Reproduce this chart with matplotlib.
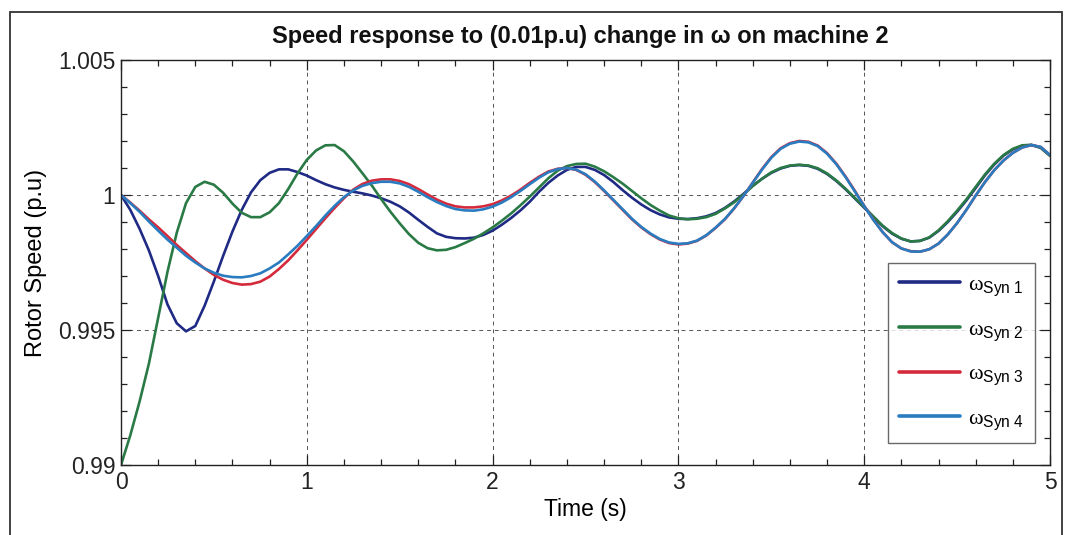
import numpy as np
import matplotlib
matplotlib.use("Agg")
import matplotlib.pyplot as plt
from matplotlib.ticker import MultipleLocator, FixedLocator, FixedFormatter
from matplotlib.patches import Rectangle

plt.rcParams['font.family'] = ['Liberation Sans', 'DejaVu Sans']
plt.rcParams['mathtext.fontset'] = 'custom'
plt.rcParams['mathtext.rm'] = 'Liberation Sans'
plt.rcParams['mathtext.it'] = 'Liberation Serif'

# time axis (s), sampled every 0.05 s
time_s = np.linspace(0.0, 5.0, 101)

# rotor speeds (p.u.)
w_syn1 = [
    1.00000, 0.99945, 0.99875, 0.99795, 0.99700, 0.99595, 0.99525, 0.99495, 0.99515, 0.99590,
    0.99680, 0.99775, 0.99865, 0.99945, 1.00010, 1.00055, 1.00082, 1.00095, 1.00095, 1.00085,
    1.00072, 1.00055, 1.00040, 1.00028, 1.00019, 1.00012, 1.00006, 0.99998, 0.99988, 0.99975,
    0.99958, 0.99935, 0.99908, 0.99882, 0.99858, 0.99845, 0.99840, 0.99839, 0.99842, 0.99852,
    0.99868, 0.99890, 0.99915, 0.99943, 0.99975, 1.00012, 1.00045, 1.00072, 1.00093, 1.00104,
    1.00104, 1.00093, 1.00074, 1.00048, 1.00018, 0.99990, 0.99965, 0.99944, 0.99928, 0.99917,
    0.99912, 0.99911, 0.99914, 0.99921, 0.99933, 0.99952, 0.99976, 1.00004, 1.00034, 1.00060,
    1.00082, 1.00098, 1.00108, 1.00111, 1.00108, 1.00097, 1.00078, 1.00052, 1.00021, 0.99987,
    0.99953, 0.99918, 0.99884, 0.99857, 0.99838, 0.99828, 0.99830, 0.99842, 0.99867, 0.99900,
    0.99938, 0.99980, 1.00026, 1.00073, 1.00113, 1.00146, 1.00169, 1.00182, 1.00185, 1.00175,
    1.00146,
]
w_syn2 = [
    0.99000, 0.99110, 0.99235, 0.99375, 0.99545, 0.99715, 0.99860, 0.99970, 1.00030, 1.00049,
    1.00038, 1.00008, 0.99968, 0.99934, 0.99918, 0.99918, 0.99936, 0.99970, 1.00022, 1.00080,
    1.00130, 1.00165, 1.00184, 1.00185, 1.00162, 1.00124, 1.00080, 1.00035, 0.99985, 0.99938,
    0.99895, 0.99855, 0.99823, 0.99803, 0.99795, 0.99797, 0.99807, 0.99822, 0.99838, 0.99858,
    0.99880, 0.99905, 0.99932, 0.99962, 0.99994, 1.00028, 1.00062, 1.00090, 1.00107, 1.00115,
    1.00116, 1.00105, 1.00088, 1.00066, 1.00042, 1.00015, 0.99988, 0.99963, 0.99942, 0.99924,
    0.99914, 0.99910, 0.99912, 0.99918, 0.99930, 0.99950, 0.99973, 1.00002, 1.00033, 1.00060,
    1.00084, 1.00100, 1.00109, 1.00112, 1.00109, 1.00099, 1.00080, 1.00054, 1.00023, 0.99989,
    0.99955, 0.99920, 0.99886, 0.99859, 0.99839, 0.99828, 0.99830, 0.99843, 0.99869, 0.99903,
    0.99942, 0.99984, 1.00030, 1.00076, 1.00116, 1.00148, 1.00171, 1.00184, 1.00186, 1.00175,
    1.00145,
]
w_syn3 = [
    1.00000, 0.99972, 0.99942, 0.99910, 0.99880, 0.99848, 0.99815, 0.99785, 0.99755, 0.99728,
    0.99704, 0.99686, 0.99674, 0.99668, 0.99670, 0.99679, 0.99698, 0.99726, 0.99758, 0.99795,
    0.99834, 0.99874, 0.99914, 0.99952, 0.99988, 1.00020, 1.00041, 1.00053, 1.00058, 1.00058,
    1.00052, 1.00040, 1.00022, 1.00002, 0.99983, 0.99968, 0.99958, 0.99954, 0.99954, 0.99958,
    0.99966, 0.99980, 0.99998, 1.00020, 1.00045, 1.00068, 1.00087, 1.00097, 1.00100, 1.00093,
    1.00075, 1.00048, 1.00015, 0.99980, 0.99945, 0.99910, 0.99880, 0.99855, 0.99835, 0.99822,
    0.99817, 0.99820, 0.99830, 0.99850, 0.99878, 0.99910, 0.99950, 0.99996, 1.00046, 1.00096,
    1.00140, 1.00173, 1.00192, 1.00200, 1.00197, 1.00183, 1.00155, 1.00116, 1.00068, 1.00015,
    0.99960, 0.99908, 0.99862, 0.99825, 0.99802, 0.99792, 0.99790, 0.99799, 0.99820, 0.99854,
    0.99896, 0.99945, 0.99998, 1.00048, 1.00092, 1.00128, 1.00156, 1.00176, 1.00185, 1.00178,
    1.00148,
]
w_syn4 = [
    1.00000, 0.99970, 0.99938, 0.99902, 0.99868, 0.99835, 0.99805, 0.99775, 0.99750, 0.99728,
    0.99712, 0.99701, 0.99696, 0.99695, 0.99700, 0.99710, 0.99728, 0.99750, 0.99780, 0.99812,
    0.99848, 0.99885, 0.99924, 0.99960, 0.99992, 1.00017, 1.00034, 1.00044, 1.00049, 1.00049,
    1.00043, 1.00030, 1.00012, 0.99992, 0.99974, 0.99959, 0.99948, 0.99943, 0.99942, 0.99947,
    0.99957, 0.99972, 0.99992, 1.00015, 1.00040, 1.00064, 1.00084, 1.00096, 1.00100, 1.00094,
    1.00077, 1.00050, 1.00017, 0.99982, 0.99947, 0.99912, 0.99882, 0.99857, 0.99837, 0.99824,
    0.99819, 0.99821, 0.99831, 0.99851, 0.99879, 0.99911, 0.99951, 0.99996, 1.00045, 1.00094,
    1.00138, 1.00171, 1.00190, 1.00198, 1.00195, 1.00181, 1.00153, 1.00114, 1.00066, 1.00013,
    0.99959, 0.99907, 0.99862, 0.99825, 0.99802, 0.99791, 0.99790, 0.99799, 0.99820, 0.99854,
    0.99896, 0.99945, 0.99998, 1.00048, 1.00092, 1.00128, 1.00156, 1.00176, 1.00185, 1.00178,
    1.00148,
]

series_labels = [r'$\omega_{\mathrm{Syn\ 1}}$', r'$\omega_{\mathrm{Syn\ 2}}$',
                 r'$\omega_{\mathrm{Syn\ 3}}$', r'$\omega_{\mathrm{Syn\ 4}}$']
series_colors = ['#1f2a84', '#2a7a46', '#d42a3c', '#2a7cc0']

x_ticks = [0, 1, 2, 3, 4, 5]
y_ticks = [0.99, 0.995, 1.0, 1.005]
y_tick_labels = ['0.99', '0.995', '1', '1.005']

W, H = 1068, 535
fig = plt.figure(figsize=(W / 100, H / 100), dpi=100)
fig.patch.set_facecolor('white')

ax = fig.add_axes([121 / W, 70 / H, (1050 - 121) / W, (465 - 60) / H])

for vals, lab, col in zip([w_syn1, w_syn2, w_syn3, w_syn4], series_labels, series_colors):
    ax.plot(time_s, vals, color=col, lw=1.9, label=lab, solid_capstyle='round')

ax.set_xlim(0, 5)
ax.set_ylim(0.99, 1.005)
ax.xaxis.set_major_locator(FixedLocator(x_ticks))
ax.xaxis.set_minor_locator(MultipleLocator(0.2))
ax.yaxis.set_major_locator(FixedLocator(y_ticks))
ax.yaxis.set_major_formatter(FixedFormatter(y_tick_labels))
ax.yaxis.set_minor_locator(MultipleLocator(0.001))
ax.tick_params(which='both', direction='in', top=True, right=True, colors='#222222',
               labelsize=16.5, width=0.9)
ax.tick_params(which='major', length=7, pad=4)
ax.tick_params(which='minor', length=4)

ax.grid(True, which='major', linestyle=(0, (4, 4)), color='#555555', lw=0.7)
for sp in ax.spines.values():
    sp.set_color('#222222')
    sp.set_linewidth(1.0)

ax.set_xlabel('Time (s)', fontsize=16.5, labelpad=3)
ax.set_ylabel('Rotor Speed (p.u)', fontsize=17, labelpad=8)

fig.text(580 / W, 1 - 37 / H, 'Speed response to (0.01p.u) change in \u03c9 on machine 2',
         ha='center', va='center', fontsize=17, fontweight='bold', color='#111111')

leg = ax.legend(loc='upper left', bbox_to_anchor=((888 - 121) / 929, (465 - 263) / 405),
                borderaxespad=0, fontsize=16, handlelength=2.75, handletextpad=0.36,
                labelspacing=0.93, borderpad=0.5, frameon=True, fancybox=False)
leg.get_frame().set_edgecolor('#444444')
leg.get_frame().set_linewidth(1.0)
for ln in leg.get_lines():
    ln.set_linewidth(2.6)

fig.patches.append(Rectangle((10 / W, -0.05), (1062 - 10) / W, 1.05 - 12 / H,
                             transform=fig.transFigure, fill=False,
                             edgecolor='#333333', lw=1.3))

fig.savefig('out.png', dpi=100)
